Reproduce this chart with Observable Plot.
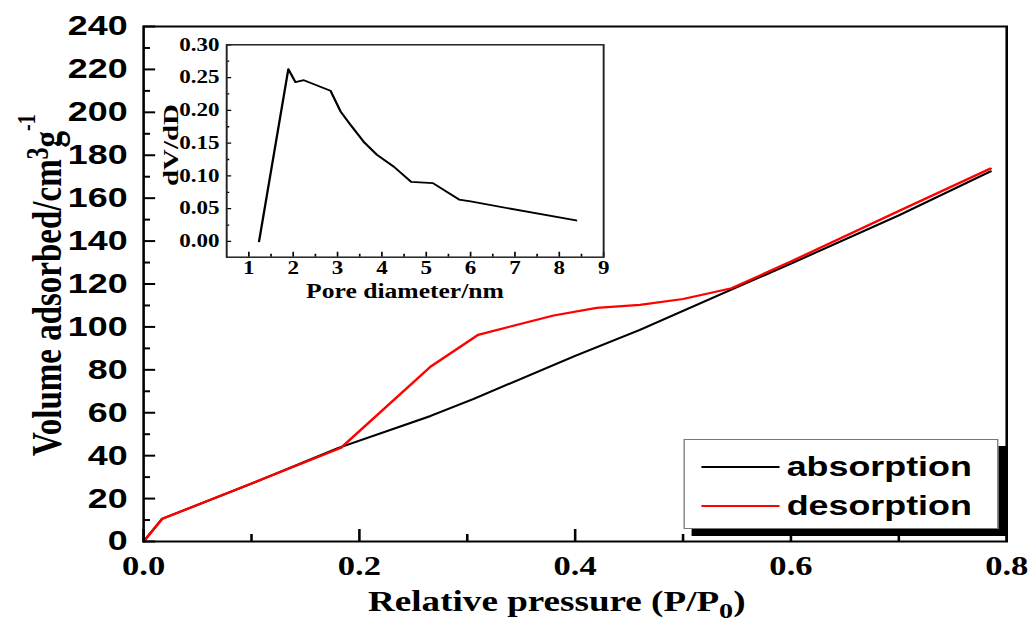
<!DOCTYPE html>
<html><head><meta charset="utf-8">
<script src="https://cdn.jsdelivr.net/npm/d3@7"></script>
<script src="https://cdn.jsdelivr.net/npm/@observablehq/plot@0.6"></script>
<style>
html,body{margin:0;padding:0;background:#fff;overflow:hidden;}
#wrap{position:relative;width:805px;height:622px;transform:scaleX(1.28);transform-origin:0 0;}
#wrap svg{position:absolute;}
#legend{position:absolute;left:533.6px;top:439px;width:246px;height:90px;box-sizing:border-box;border:1px solid #777;background:#fff;box-shadow:6.3px 7px 0 #000;font:bold 28px "Liberation Sans",Arial,sans-serif;color:#000;}
.row{position:absolute;left:0;height:32px;line-height:32px;display:flex;align-items:center;}
.sw{width:61px;height:0;border-top:2.5px solid;margin-left:13px;margin-right:6px;}
</style>
</head><body>
<div id="wrap"></div>
<script>
// Main isotherm data (relative pressure P/P0, volume adsorbed cm3/g)
const adsP = [0, 0.017, 0.1, 0.18, 0.266, 0.306, 0.4, 0.46, 0.55, 0.6, 0.7, 0.785];
const adsV = [0, 10.5, 27, 43.5, 58.5, 66.5, 86.5, 98.6, 118.5, 129.5, 152, 172.5];
const desP = [0, 0.0173, 0.1, 0.183, 0.266, 0.31, 0.38, 0.42, 0.46, 0.5, 0.545, 0.6, 0.7, 0.785];
const desV = [0, 10.6, 27, 43.7, 81.5, 96.3, 105.3, 108.9, 110.3, 113, 118, 130.5, 154, 173.8];
const seriesNames = ["absorption", "desorption"];
const seriesColors = ["#000000", "#ff0000"];

// Inset pore size distribution
const poreD = [1.23, 1.89, 2.05, 2.24, 2.84, 3.07, 3.29, 3.59, 3.89, 4.27, 4.66, 5.15, 5.74, 6.0, 8.38];
const poreDV = [0.000, 0.263, 0.243, 0.246, 0.230, 0.198, 0.178, 0.152, 0.132, 0.114, 0.091, 0.089, 0.064, 0.061, 0.032];

// Tick values
const xMajor = [0, 0.2, 0.4, 0.6, 0.8];
const xMinor = [0.1, 0.3, 0.5, 0.7];
const yMajor = [0, 20, 40, 60, 80, 100, 120, 140, 160, 180, 200, 220, 240];
const yMinor = [10, 30, 50, 70, 90, 110, 130, 150, 170, 190, 210, 230];
const ixMajor = [1, 2, 3, 4, 5, 6, 7, 8, 9];
const ixMinor = [1.5, 2.5, 3.5, 4.5, 5.5, 6.5, 7.5, 8.5];
const iyMajor = [0, 0.05, 0.10, 0.15, 0.20, 0.25, 0.30];
const iyMinor = [0.025, 0.075, 0.125, 0.175, 0.225, 0.275];

const ads = adsP.map((p, i) => ({p, v: adsV[i]}));
const des = desP.map((p, i) => ({p, v: desV[i]}));
const pore = poreD.map((d, i) => ({d, v: poreDV[i]}));

const SERIF = '"Liberation Serif","Times New Roman",serif';
const SANS = '"Liberation Sans",Arial,sans-serif';

// ---------- main plot ----------
const W = 805, H = 622, mL = 111.7, mR = 19, mT = 26, mB = 81;
const fw = W - mL - mR, fh = H - mT - mB;
const main = Plot.plot({
  width: W, height: H, marginLeft: mL, marginRight: mR, marginTop: mT, marginBottom: mB,
  x: {domain: [0, 0.8]},
  y: {domain: [0, 240]},
  marks: [
    Plot.line(ads, {x: "p", y: "v", stroke: seriesColors[0], strokeWidth: 2}),
    Plot.line(des, {x: "p", y: "v", stroke: seriesColors[1], strokeWidth: 2.2}),
    Plot.tickX(xMajor, {x: d => d, insetTop: fh - 12, stroke: "#000", strokeWidth: 2}),
    Plot.tickX(xMinor, {x: d => d, insetTop: fh - 7, stroke: "#000", strokeWidth: 2}),
    Plot.tickY(yMajor, {y: d => d, insetRight: fw - 9.5, stroke: "#000", strokeWidth: 2}),
    Plot.tickY(yMinor, {y: d => d, insetRight: fw - 5.5, stroke: "#000", strokeWidth: 2}),
    Plot.axisX({ticks: xMajor, tickSize: 0, tickPadding: 14, tickFormat: d3.format(".1f"), fontSize: 27, fontFamily: SERIF, fontWeight: "bold", label: null}),
    Plot.axisY({ticks: yMajor, tickSize: 0, tickPadding: 12.5, tickFormat: d3.format("d"), fontSize: 28, fontFamily: SANS, fontWeight: "bold", label: null}),
    Plot.frame({stroke: "#000", strokeWidth: 2})
  ]
});
main.style.left = "0px"; main.style.top = "0px"; main.style.background = "transparent"; main.style.color = "#000";
const ms = d3.select(main);
const xt = ms.append("text").attr("x", 435).attr("y", 611).attr("text-anchor", "middle")
  .attr("font-family", SERIF).attr("font-weight", "bold").attr("font-size", 29).attr("fill", "#000");
xt.append("tspan").text("Relative pressure (P/P");
xt.append("tspan").attr("dy", 7).attr("font-size", 22).text("0");
xt.append("tspan").attr("dy", -7).text(")");
const yt = ms.append("text").attr("transform", "translate(47.7,456) rotate(-90)").attr("text-anchor", "start")
  .attr("font-family", SERIF).attr("font-weight", "bold").attr("font-size", 33).attr("fill", "#000");
yt.append("tspan").text("Volume adsorbed/cm");
yt.append("tspan").attr("dy", -10).attr("font-size", 24).text("3");
yt.append("tspan").attr("dy", 10).text("g");
yt.append("tspan").attr("dy", -20).attr("font-size", 20).text("-1");

// ---------- inset ----------
const iLeft = 100, iTop = 30, iW = 390, iH = 280;
const imL = 76.6, imR = 18.9, imT = 14.3, imB = 53.3;
const ifw = iW - imL - imR, ifh = iH - imT - imB;
const inset = Plot.plot({
  width: iW, height: iH, marginLeft: imL, marginRight: imR, marginTop: imT, marginBottom: imB,
  x: {domain: [0.5, 9]},
  y: {domain: [-0.024, 0.30]},
  marks: [
    Plot.line(pore, {x: "d", y: "v", stroke: "#000", strokeWidth: 1.8}),
    Plot.tickX(ixMajor, {x: d => d, insetTop: ifh - 5, stroke: "#000", strokeWidth: 1.3}),
    Plot.tickX(ixMinor, {x: d => d, insetTop: ifh - 3, stroke: "#000", strokeWidth: 1.3}),
    Plot.tickY(iyMajor, {y: d => d, insetRight: ifw - 4, stroke: "#000", strokeWidth: 1.3}),
    Plot.tickY(iyMinor, {y: d => d, insetRight: ifw - 2.5, stroke: "#000", strokeWidth: 1.3}),
    Plot.axisX({ticks: ixMajor, tickSize: 0, tickPadding: 4, tickFormat: d3.format("d"), fontSize: 18, fontFamily: SERIF, fontWeight: "bold", label: null}),
    Plot.axisY({ticks: iyMajor, tickSize: 0, tickPadding: 5.6, tickFormat: d3.format(".2f"), fontSize: 18, fontFamily: SERIF, fontWeight: "bold", label: null}),
    Plot.frame({stroke: "#222", strokeWidth: 1.5})
  ]
});
inset.style.left = iLeft + "px"; inset.style.top = iTop + "px"; inset.style.background = "transparent"; inset.style.color = "#000";
const is = d3.select(inset);
is.append("text").attr("x", 216.4).attr("y", 268).attr("text-anchor", "middle")
  .attr("font-family", SERIF).attr("font-weight", "bold").attr("font-size", 20).attr("fill", "#000")
  .text("Pore diameter/nm");
is.append("text").attr("transform", "translate(39,115) rotate(-90)").attr("text-anchor", "middle")
  .attr("font-family", SERIF).attr("font-weight", "bold").attr("font-size", 17).attr("fill", "#000")
  .attr("textLength", 82).attr("lengthAdjust", "spacingAndGlyphs")
  .text("dV/dD");

const wrap = document.getElementById("wrap");
wrap.appendChild(main);
wrap.appendChild(inset);

// ---------- legend ----------
const legend = document.createElement("div");
legend.id = "legend";
seriesNames.forEach((name, i) => {
  const row = document.createElement("div");
  row.className = "row";
  row.style.top = (i === 0 ? 11 : 50) + "px";
  const sw = document.createElement("span");
  sw.className = "sw";
  sw.style.borderTopColor = seriesColors[i];
  const tx = document.createElement("span");
  tx.textContent = name;
  row.appendChild(sw); row.appendChild(tx);
  legend.appendChild(row);
});
wrap.appendChild(legend);
</script>
</body></html>
